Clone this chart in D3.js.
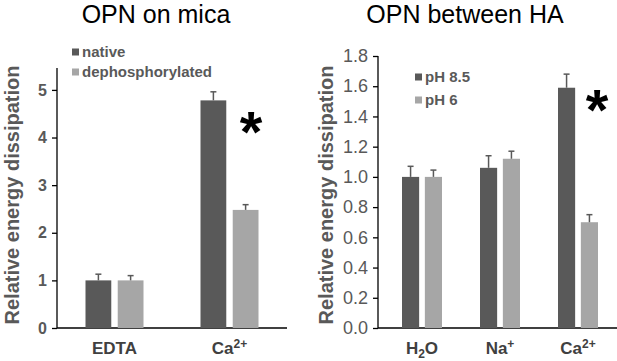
<!DOCTYPE html>
<html>
<head>
<meta charset="utf-8">
<script src="https://cdn.jsdelivr.net/npm/d3@7"></script>
<style>
  body { margin: 0; background: #fff; }
  text { font-family: "Liberation Sans", Arial, sans-serif; }
</style>
</head>
<body>
<svg id="chart" width="617" height="361"></svg>
<script>
// left panel data
const micaCats = ['EDTA', 'Ca^{2+}'];
const micaSeries = ['native', 'dephosphorylated'];
const micaNative = [1.0, 4.78];
const micaNativeErr = [0.13, 0.18];
const micaDephos = [1.0, 2.48];
const micaDephosErr = [0.10, 0.11];
const micaTicks = [0, 1, 2, 3, 4, 5];

// right panel data
const haCats = ['H_{2}O', 'Na^{+}', 'Ca^{2+}'];
const haSeries = ['pH 8.5', 'pH 6'];
const haHigh = [1.0, 1.06, 1.59];
const haHighErr = [0.07, 0.08, 0.09];
const haLow = [1.0, 1.12, 0.70];
const haLowErr = [0.045, 0.05, 0.05];
const haTicks = [0, 0.2, 0.4, 0.6, 0.8, 1.0, 1.2, 1.4, 1.6, 1.8];

const colors = ['#595959', '#a6a6a6'];
const svg = d3.select('#chart');

// label like 'Ca^{2+}' or 'H_{2}O' -> tspans
function richText(sel, str) {
  const parts = str.split(/(\^\{[^}]*\}|_\{[^}]*\})/).filter(s => s.length);
  parts.forEach(p => {
    if (p.startsWith('^')) {
      sel.append('tspan').attr('baseline-shift', '6').style('font-size', '12px').text(p.slice(2, -1));
    } else if (p.startsWith('_')) {
      sel.append('tspan').attr('baseline-shift', '-4').style('font-size', '12px').text(p.slice(2, -1));
    } else {
      sel.append('tspan').text(p);
    }
  });
}

function panel(opts) {
  const g = svg.append('g');
  const y = d3.scaleLinear().domain(opts.yDomain).range([328, opts.yTop]);
  const x = d3.scaleBand().domain(opts.cats).range(opts.xRange);
  const x1 = d3.scaleBand().domain([0, 1]).range([-opts.group / 2, opts.group / 2]).paddingInner(opts.gap);

  // title
  g.append('text')
    .attr('x', opts.titleX).attr('y', 23)
    .attr('text-anchor', 'middle')
    .style('font-size', '25px').style('fill', '#000')
    .text(opts.title);

  // y label
  g.append('text')
    .attr('transform', `translate(${opts.labelX},195) rotate(-90)`)
    .attr('text-anchor', 'middle')
    .style('font-size', '20px').style('font-weight', 'bold').style('fill', '#595959')
    .text('Relative energy dissipation');

  // y axis
  const yAxis = d3.axisLeft(y).tickValues(opts.ticks).tickSize(5).tickPadding(5)
    .tickFormat(opts.fmt);
  const ya = g.append('g').attr('transform', `translate(${opts.axisX},0)`).call(yAxis);
  ya.select('.domain').remove();
  ya.selectAll('.tick line').attr('stroke', '#000').attr('stroke-width', 1.3);
  ya.selectAll('.tick text')
    .style('font-family', '"Liberation Sans", Arial, sans-serif')
    .style('font-size', opts.tickSize).style('font-weight', opts.tickWeight)
    .style('fill', '#595959');
  g.append('line')
    .attr('x1', opts.axisX).attr('x2', opts.axisX)
    .attr('y1', opts.yTop).attr('y2', 328)
    .attr('stroke', '#000').attr('stroke-width', 1.3);
  // x axis line
  g.append('line')
    .attr('x1', opts.axisX).attr('x2', opts.xRange[1])
    .attr('y1', 328).attr('y2', 328)
    .attr('stroke', '#000').attr('stroke-width', 1.3);

  // bars + errors
  opts.values.forEach((vals, si) => {
    const errs = opts.errs[si];
    const cx = (c) => x(c) + x.bandwidth() / 2 + x1(si);
    g.selectAll(null).data(opts.cats).enter().append('rect')
      .attr('x', d => cx(d))
      .attr('y', (d, i) => y(vals[i]))
      .attr('width', x1.bandwidth())
      .attr('height', (d, i) => 328 - y(vals[i]))
      .attr('fill', colors[si]);
    const eb = g.selectAll(null).data(opts.cats).enter().append('g');
    eb.append('line')
      .attr('x1', d => cx(d) + x1.bandwidth() / 2).attr('x2', d => cx(d) + x1.bandwidth() / 2)
      .attr('y1', (d, i) => y(vals[i])).attr('y2', (d, i) => y(vals[i] + errs[i]))
      .attr('stroke', '#595959').attr('stroke-width', 1.5);
    eb.append('line')
      .attr('x1', d => cx(d) + x1.bandwidth() / 2 - 3).attr('x2', d => cx(d) + x1.bandwidth() / 2 + 3)
      .attr('y1', (d, i) => y(vals[i] + errs[i])).attr('y2', (d, i) => y(vals[i] + errs[i]))
      .attr('stroke', '#595959').attr('stroke-width', 1.5);
  });

  // x labels
  g.selectAll(null).data(opts.cats).enter().append('text')
    .attr('x', d => x(d) + x.bandwidth() / 2)
    .attr('y', 354)
    .attr('text-anchor', 'middle')
    .style('font-size', '17px').style('font-weight', 'bold').style('fill', '#404040')
    .each(function(d) { richText(d3.select(this), d); });

  // legend
  opts.series.forEach((s, i) => {
    const ly = opts.legendY[i];
    g.append('rect')
      .attr('x', opts.legendX).attr('y', ly - 3.5)
      .attr('width', 7).attr('height', 7)
      .attr('fill', colors[i]);
    g.append('text')
      .attr('x', opts.legendX + 10).attr('y', ly + 5)
      .style('font-size', '15px').style('font-weight', 'bold').style('fill', '#595959')
      .text(s);
  });

  // significance mark
  g.append('text')
    .attr('x', opts.star[0]).attr('y', opts.star[1])
    .attr('text-anchor', 'middle')
    .style('font-size', '58px').style('font-weight', 'bold').style('fill', '#000')
    .text('*');
}

panel({
  title: 'OPN on mica', titleX: 156, labelX: 19,
  cats: micaCats, series: micaSeries,
  values: [micaNative, micaDephos], errs: [micaNativeErr, micaDephosErr],
  yDomain: [0, 5.46], yTop: 68, ticks: micaTicks, fmt: d3.format('d'),
  tickSize: '16px', tickWeight: 'bold',
  axisX: 57, xRange: [57, 287], group: 58, gap: 0.2,
  legendX: 72, legendY: [52, 72], star: [251, 152]
});

panel({
  title: 'OPN between HA', titleX: 465, labelX: 333,
  cats: haCats, series: haSeries,
  values: [haHigh, haLow], errs: [haHighErr, haLowErr],
  yDomain: [0, 1.8], yTop: 56, ticks: haTicks, fmt: d3.format('.1f'),
  tickSize: '18px', tickWeight: 'normal',
  axisX: 378, xRange: [383, 617], group: 40, gap: 0.25,
  legendX: 415, legendY: [77, 100], star: [597, 130]
});
</script>
</body>
</html>
